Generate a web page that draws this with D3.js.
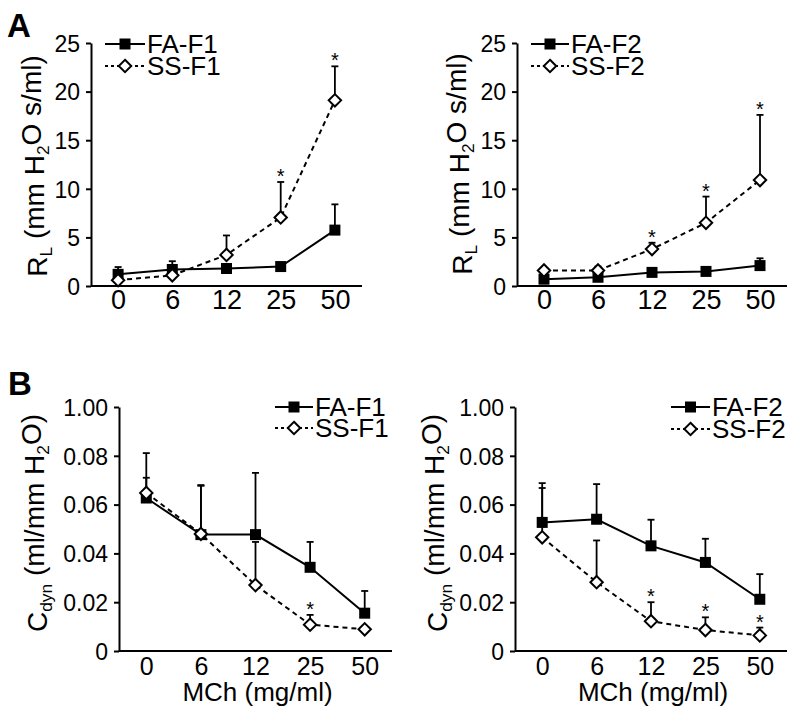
<!DOCTYPE html>
<html>
<head>
<meta charset="utf-8">
<script src="https://cdn.jsdelivr.net/npm/d3@7"></script>
<style>
  html, body { margin: 0; padding: 0; background: #fff; }
  svg text { font-family: "Liberation Sans", Arial, sans-serif; fill: #000; }
</style>
</head>
<body>
<svg id="chart" width="800" height="720"></svg>
<script>
// ---------------- DATA ----------------
const doses = ["0", "6", "12", "25", "50"];

const rlTicks = [0, 5, 10, 15, 20, 25];
const rlTickLabels = ["0", "5", "10", "15", "20", "25"];
const cdynTicks = [0, 0.02, 0.04, 0.06, 0.08, 0.10];
const cdynTickLabels = ["0", "0.02", "0.04", "0.06", "0.08", "1.00"];

// Panel A left (R_L, F1)
const faF1_RL = [1.2, 1.7, 1.8, 2.0, 5.75];
const faF1_RL_sem = [0.75, 0.85, 0, 0, 2.65];
const ssF1_RL = [0.6, 1.1, 3.2, 7.05, 19.1];
const ssF1_RL_sem = [0, 0, 2.0, 3.65, 3.5];
const ssF1_RL_sig = [0, 0, 0, 1, 1];

// Panel A right (R_L, F2)
const faF2_RL = [0.7, 0.9, 1.4, 1.5, 2.1];
const faF2_RL_sem = [0, 0, 0, 0, 0.75];
const ssF2_RL = [1.6, 1.6, 3.8, 6.5, 10.9];
const ssF2_RL_sem = [0, 0.4, 0.65, 2.7, 6.7];
const ssF2_RL_sig = [0, 0, 1, 1, 1];

// Panel B left (Cdyn, F1)
const faF1_C = [0.0627, 0.0477, 0.0477, 0.0343, 0.0155];
const faF1_C_sem = [0.0083, 0.0203, 0.0253, 0.0104, 0.0091];
const ssF1_C = [0.0648, 0.048, 0.027, 0.0108, 0.0089];
const ssF1_C_sem = [0.0163, 0.0197, 0.0177, 0.004, 0];
const ssF1_C_sig = [0, 0, 0, 1, 0];

// Panel B right (Cdyn, F2)
const faF2_C = [0.0527, 0.054, 0.0431, 0.0363, 0.0212];
const faF2_C_sem = [0.0161, 0.0144, 0.0107, 0.0097, 0.0103];
const ssF2_C = [0.0466, 0.0282, 0.0122, 0.0086, 0.0064];
const ssF2_C_sem = [0.0202, 0.0171, 0.0078, 0.0052, 0.0032];
const ssF2_C_sig = [0, 0, 1, 1, 1];

// ---------------- DRAW ----------------
const svg = d3.select("#chart");

function drawPanel(o) {
  const g = svg.append("g");
  const x = d3.scalePoint().domain(doses).range([o.x0, o.x1]).padding(0.5);
  const y = d3.scaleLinear().domain([0, o.yMax]).range([o.y0, o.y1]);

  // y axis
  const ya = g.append("g").attr("transform", `translate(${o.x0},0)`)
    .call(d3.axisLeft(y).tickValues(o.ticks).tickSize(5).tickSizeOuter(0).tickPadding(6)
      .tickFormat((d, i) => o.tickLabels[i]));
  ya.select(".domain").attr("stroke", "#000").attr("stroke-width", 2);
  ya.selectAll(".tick line").attr("stroke", "#000").attr("stroke-width", 2);
  ya.selectAll(".tick text").attr("font-size", o.yTickFont).attr("font-family", null).attr("dy", "0.36em");

  // x axis
  const xa = g.append("g").attr("transform", `translate(0,${o.y0})`)
    .call(d3.axisBottom(x).tickSize(0).tickSizeOuter(0));
  xa.select(".domain").attr("stroke", "#000").attr("stroke-width", 2)
    .attr("d", `M${o.x0},0H${o.x1}`);
  xa.selectAll(".tick text").attr("font-size", o.xTickFont).attr("font-family", null)
    .attr("dy", null).attr("y", o.xTickOffset);

  // y label
  const yl = g.append("text")
    .attr("transform", `translate(${o.yLabelX},${o.yLabelY}) rotate(-90)`)
    .attr("text-anchor", "middle").attr("font-size", o.labelFont);
  o.yLabelParts.forEach(p => {
    const t = yl.append("tspan").text(p.t);
    if (p.sub) t.attr("font-size", o.labelFont * 0.62).attr("dy", "0.3em");
    if (p.after) t.attr("dy", "-0.3em");
  });

  if (o.xLabel) {
    g.append("text").attr("x", (o.x0 + o.x1) / 2 + 2).attr("y", o.xLabelY)
      .attr("text-anchor", "middle").attr("font-size", o.labelFont - 2).text(o.xLabel);
  }

  const line = d3.line().x((d, i) => x(doses[i])).y(d => y(d));

  const seriesList = [
    { vals: o.fa, sem: o.faSem, dash: null, marker: "square" },
    { vals: o.ss, sem: o.ssSem, dash: "5,4", marker: "diamond", sig: o.ssSig }
  ];

  // lines
  seriesList.forEach(s => {
    g.append("path").datum(s.vals).attr("d", line)
      .attr("fill", "none").attr("stroke", "#000").attr("stroke-width", 2)
      .attr("stroke-dasharray", s.dash);
  });

  // error bars (upward)
  seriesList.forEach(s => {
    s.vals.forEach((v, i) => {
      if (!s.sem[i]) return;
      const cx = x(doses[i]);
      const top = y(v + s.sem[i]);
      g.append("line").attr("x1", cx).attr("x2", cx).attr("y1", y(v)).attr("y2", top)
        .attr("stroke", "#000").attr("stroke-width", 1.8);
      g.append("line").attr("x1", cx - 3.5).attr("x2", cx + 3.5).attr("y1", top).attr("y2", top)
        .attr("stroke", "#000").attr("stroke-width", 1.8);
    });
  });

  // significance asterisks
  seriesList.forEach(s => {
    if (!s.sig) return;
    s.vals.forEach((v, i) => {
      if (!s.sig[i]) return;
      g.append("text").attr("x", x(doses[i])).attr("y", y(v + s.sem[i]) + 1)
        .attr("text-anchor", "middle").attr("font-size", 20).attr("fill", "#222").text("*");
    });
  });

  // markers
  function marker(sel, type, cx, cy) {
    if (type === "square") {
      sel.append("rect").attr("x", cx - 5.5).attr("y", cy - 5.5).attr("width", 11).attr("height", 11)
        .attr("fill", "#000");
    } else {
      sel.append("path").attr("d", `M${cx},${cy - 6.2}L${cx + 6.2},${cy}L${cx},${cy + 6.2}L${cx - 6.2},${cy}Z`)
        .attr("fill", "#fff").attr("stroke", "#000").attr("stroke-width", 2);
    }
  }
  seriesList.forEach(s => {
    s.vals.forEach((v, i) => marker(g, s.marker, x(doses[i]), y(v)));
  });

  // legend
  o.legendNames.forEach((name, k) => {
    const s = seriesList[k];
    const ly = o.legendY[k];
    g.append("line").attr("x1", o.legendX[0]).attr("x2", o.legendX[1]).attr("y1", ly).attr("y2", ly)
      .attr("stroke", "#000").attr("stroke-width", 2).attr("stroke-dasharray", s.dash ? "3,3" : null);
    marker(g, s.marker, (o.legendX[0] + o.legendX[1]) / 2, ly);
    g.append("text").attr("x", o.legendX[1] + 2).attr("y", ly + 9).attr("font-size", 26).text(name);
  });
}

const rlLabel = [{ t: "R" }, { t: "L", sub: true }, { t: " (mm H", after: true }, { t: "2", sub: true }, { t: "O s/ml)", after: true }];
const cLabel = [{ t: "C" }, { t: "dyn", sub: true }, { t: " (ml/mm H", after: true }, { t: "2", sub: true }, { t: "O)", after: true }];

const common = { yTickFont: 23, labelFont: 28 };

drawPanel(Object.assign({}, common, {
  x0: 91, x1: 362, y0: 286, y1: 43, yMax: 25, ticks: rlTicks, tickLabels: rlTickLabels,
  xTickFont: 27, xTickOffset: 23, yLabelX: 47, yLabelY: 166, yLabelParts: rlLabel,
  fa: faF1_RL, faSem: faF1_RL_sem, ss: ssF1_RL, ssSem: ssF1_RL_sem, ssSig: ssF1_RL_sig,
  legendNames: ["FA-F1", "SS-F1"], legendX: [105, 145], legendY: [44, 66]
}));
drawPanel(Object.assign({}, common, {
  x0: 517, x1: 787, y0: 286, y1: 43, yMax: 25, ticks: rlTicks, tickLabels: rlTickLabels,
  xTickFont: 27, xTickOffset: 23, yLabelX: 472, yLabelY: 164, yLabelParts: rlLabel,
  fa: faF2_RL, faSem: faF2_RL_sem, ss: ssF2_RL, ssSem: ssF2_RL_sem, ssSig: ssF2_RL_sig,
  legendNames: ["FA-F2", "SS-F2"], legendX: [531, 569], legendY: [44, 66]
}));
drawPanel(Object.assign({}, common, {
  x0: 119, x1: 392, y0: 651, y1: 407, yMax: 0.10, ticks: cdynTicks, tickLabels: cdynTickLabels,
  xTickFont: 25, xTickOffset: 24, yLabelX: 47, yLabelY: 523, yLabelParts: cLabel,
  xLabel: "MCh (mg/ml)", xLabelY: 701,
  fa: faF1_C, faSem: faF1_C_sem, ss: ssF1_C, ssSem: ssF1_C_sem, ssSig: ssF1_C_sig,
  legendNames: ["FA-F1", "SS-F1"], legendX: [275, 313], legendY: [407, 428]
}));
drawPanel(Object.assign({}, common, {
  x0: 515, x1: 787, y0: 651, y1: 407, yMax: 0.10, ticks: cdynTicks, tickLabels: cdynTickLabels,
  xTickFont: 25, xTickOffset: 24, yLabelX: 447, yLabelY: 523, yLabelParts: cLabel,
  xLabel: "MCh (mg/ml)", xLabelY: 701,
  fa: faF2_C, faSem: faF2_C_sem, ss: ssF2_C, ssSem: ssF2_C_sem, ssSig: ssF2_C_sig,
  legendNames: ["FA-F2", "SS-F2"], legendX: [671, 710], legendY: [407, 429]
}));

// panel letters
svg.append("text").attr("x", 7).attr("y", 37).attr("font-size", 33).attr("font-weight", "bold").text("A");
svg.append("text").attr("x", 8).attr("y", 395).attr("font-size", 33).attr("font-weight", "bold").text("B");
</script>
</body>
</html>
